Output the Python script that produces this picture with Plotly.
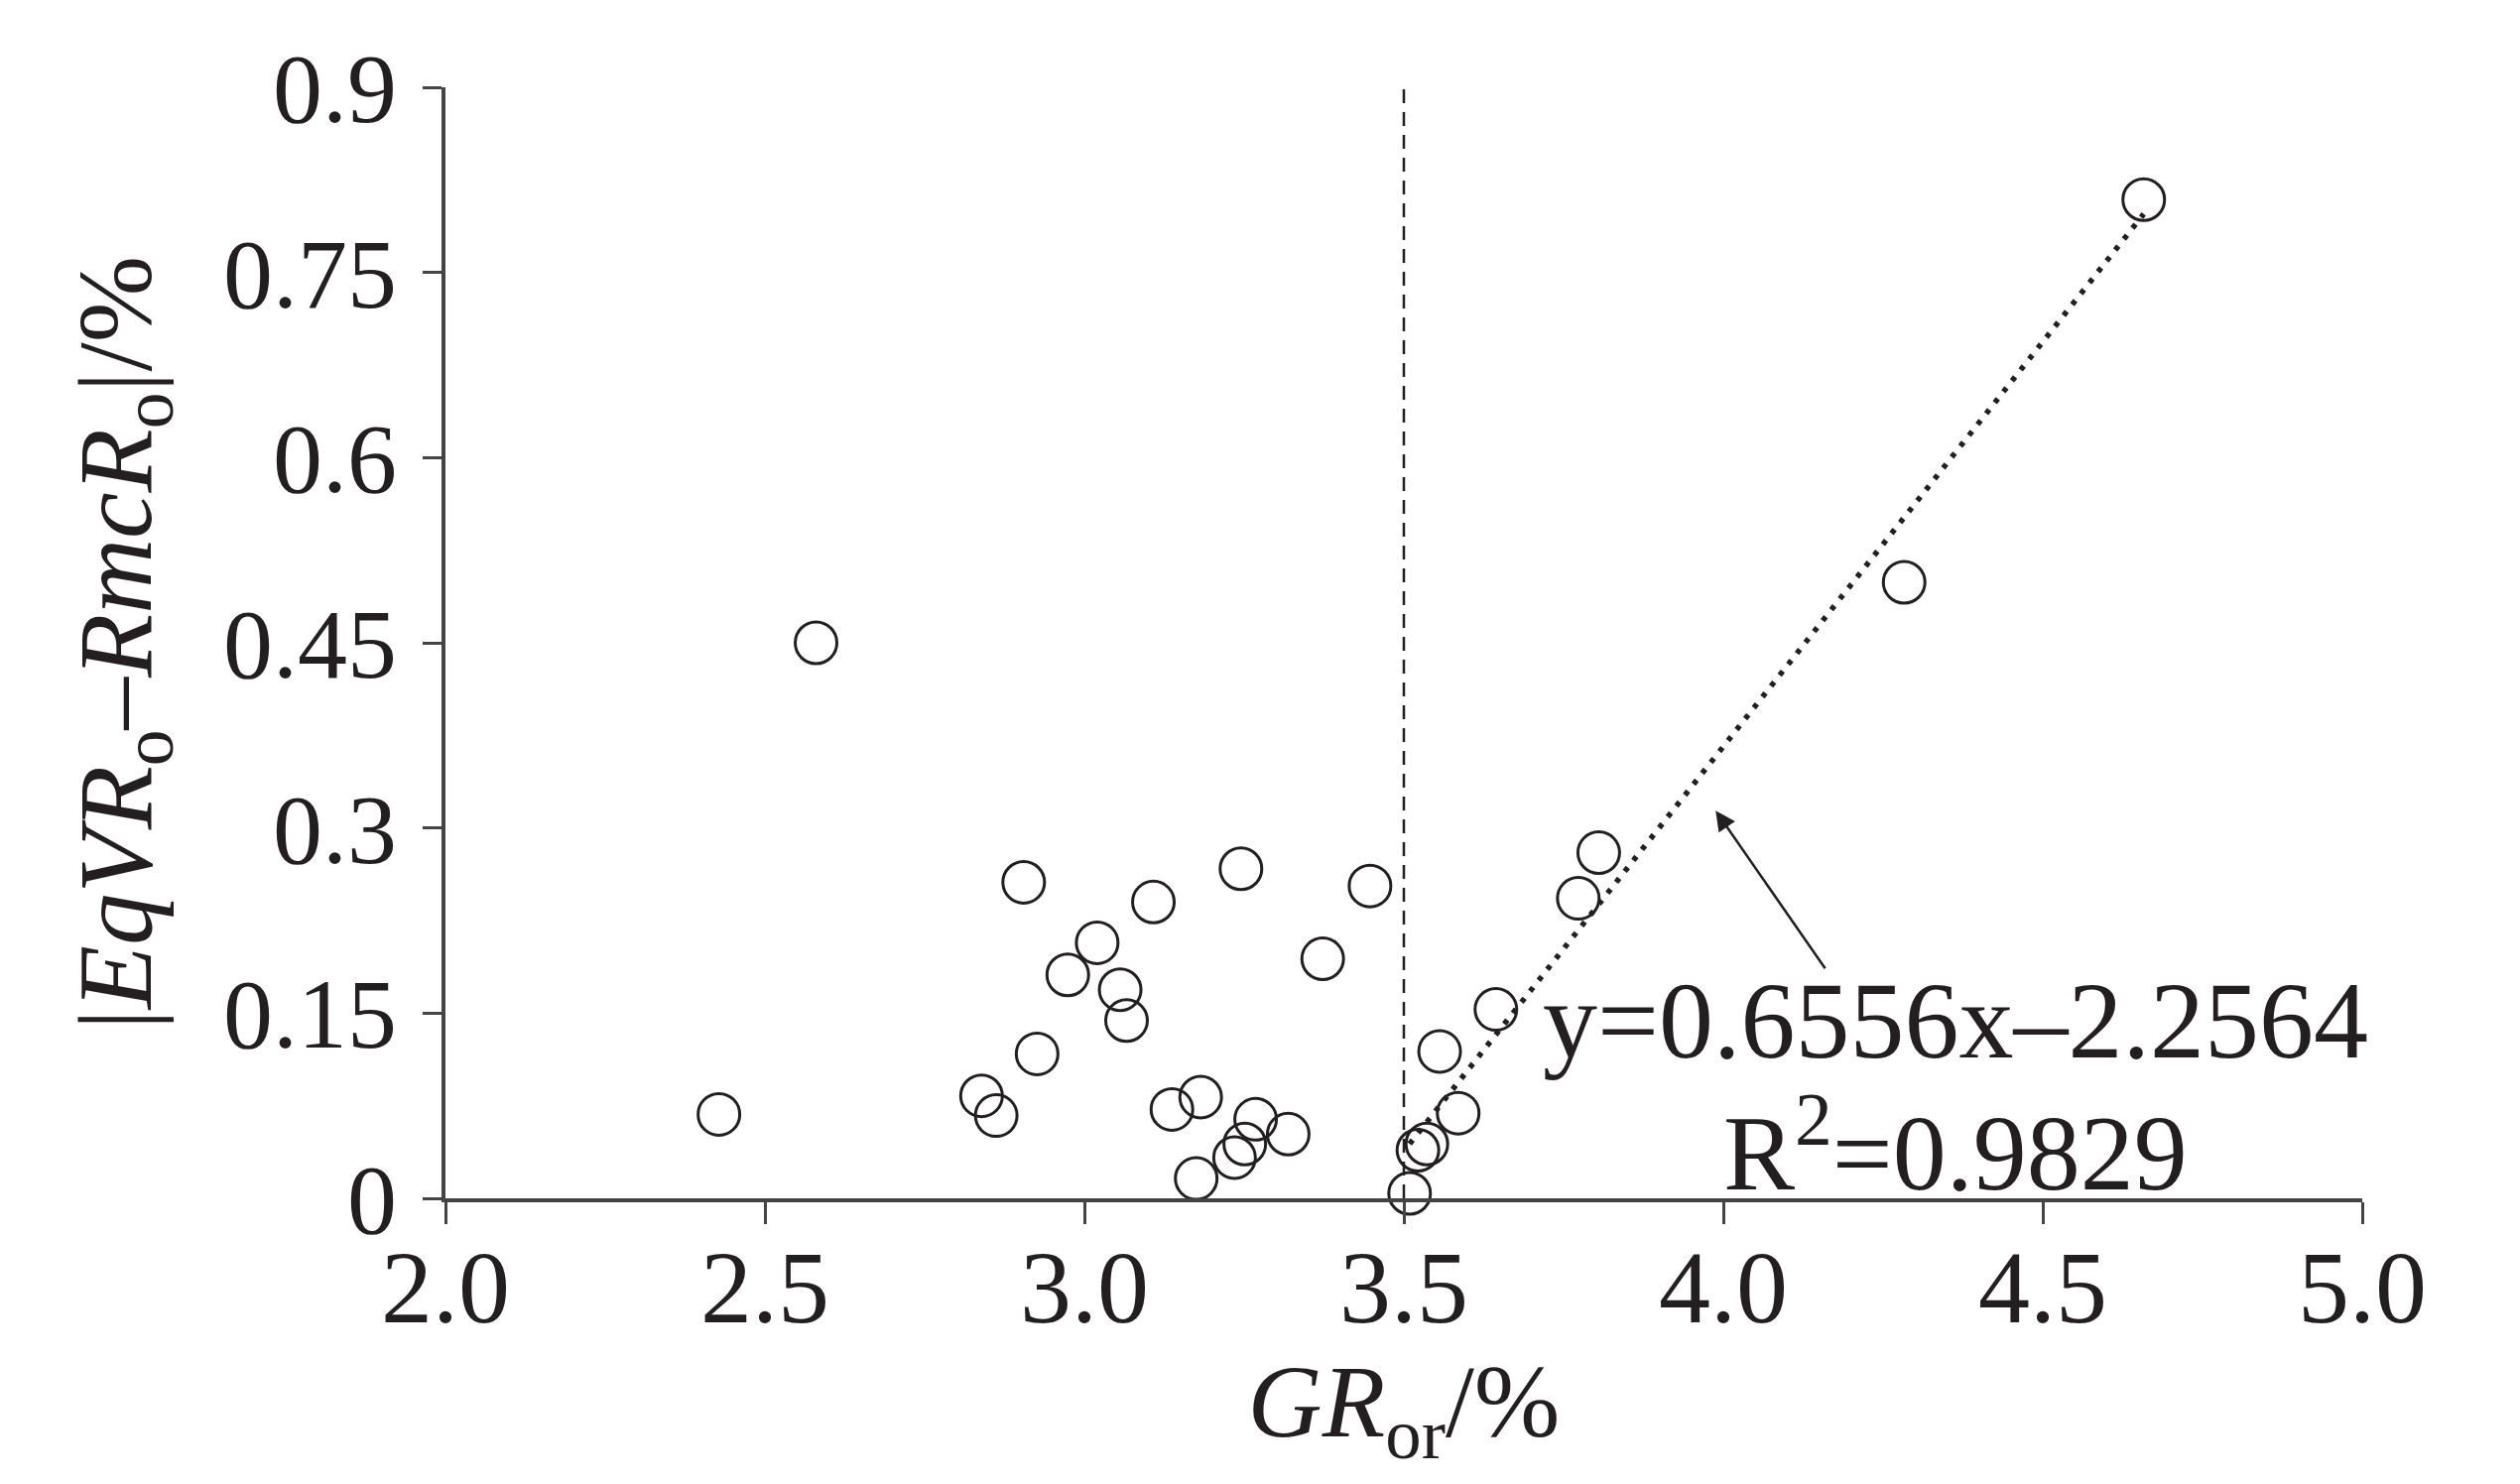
import plotly.graph_objects as go
import numpy as np

# ---- data ----
gr_or = [2.428, 2.58, 2.839, 2.862, 2.905, 2.926, 2.974, 3.020, 3.056, 3.066,
         3.108, 3.137, 3.175, 3.182, 3.235, 3.245, 3.251, 3.268, 3.319, 3.373,
         3.447, 3.509, 3.522, 3.536, 3.556, 3.585, 3.644, 3.773, 3.805, 4.283, 4.658]
diff = [0.068, 0.450, 0.083, 0.067, 0.256, 0.117, 0.181, 0.207, 0.169, 0.144,
        0.240, 0.072, 0.016, 0.082, 0.033, 0.267, 0.044, 0.064, 0.052, 0.194,
        0.253, 0.004, 0.039, 0.044, 0.119, 0.069, 0.153, 0.243, 0.280, 0.499, 0.809]

threshold = 3.5
slope = 0.6556
intercept = -2.2564
r2 = 0.9829

x_ticks = [2.0, 2.5, 3.0, 3.5, 4.0, 4.5, 5.0]
x_ticktext = ["2.0", "2.5", "3.0", "3.5", "4.0", "4.5", "5.0"]
y_ticks = [0, 0.15, 0.3, 0.45, 0.6, 0.75, 0.9]
y_ticktext = ["0", "0.15", "0.3", "0.45", "0.6", "0.75", "0.9"]

INK = "#231f20"
AXIS = "#444444"
FONT = "Liberation Serif"

fit_x = [x for x in gr_or if x >= threshold]
tx = np.array([min(fit_x), max(fit_x)])
ty = slope * tx + intercept

fig = go.Figure()

# trend line (dotted)
fig.add_trace(go.Scatter(x=tx, y=ty, mode="lines",
                         line=dict(color=INK, width=5.5, dash="5px,9px"),
                         hoverinfo="skip", showlegend=False, cliponaxis=False))

# scatter points
fig.add_trace(go.Scatter(x=gr_or, y=diff, mode="markers",
                         marker=dict(symbol="circle-open", size=42,
                                     line=dict(color=INK, width=3), color=INK),
                         showlegend=False, cliponaxis=False))

# vertical dashed threshold line
fig.add_shape(type="line", x0=threshold, x1=threshold, y0=0, y1=0.9,
              xref="x", yref="y", line=dict(color=INK, width=2.5, dash="14px,9px"))

# equation annotations
fig.add_annotation(x=4.363, y=0.144, xref="x", yref="y",
                   text="y=%.4fx\u2013%.4f" % (slope, -intercept), showarrow=False,
                   font=dict(family=FONT, size=110, color=INK),
                   xanchor="center", yanchor="middle")
fig.add_annotation(x=4.363, y=0.043, xref="x", yref="y",
                   text="R<sup>2</sup>=%.4f" % r2, showarrow=False,
                   font=dict(family=FONT, size=108, color=INK),
                   xanchor="center", yanchor="middle")

# arrow pointing at the trend line
fig.add_annotation(x=3.988, y=0.314, ax=4.161, ay=0.185,
                   xref="x", yref="y", axref="x", ayref="y",
                   text="", showarrow=True, arrowhead=2, arrowsize=1.6,
                   arrowwidth=2.5, arrowcolor=INK)

# page body has an 8px margin: figure is 2524x1480 so the plot area lands
# at the reference position inside the 2540x1496 window
fig.update_layout(
    width=2524, height=1480,
    margin=dict(l=441, r=151, t=80, b=280),
    paper_bgcolor="white", plot_bgcolor="white",
    font=dict(family=FONT, color=INK),
    xaxis=dict(range=[2, 5], tickvals=x_ticks, ticktext=x_ticktext,
               showgrid=False, zeroline=False,
               showline=True, linecolor=AXIS, linewidth=4,
               ticks="outside", ticklen=22, tickwidth=2.5, tickcolor=AXIS,
               ticklabelstandoff=-26,
               tickfont=dict(family=FONT, size=104, color=INK),
               title=dict(text="<i>GR</i><sub>or</sub>/%",
                          font=dict(family=FONT, size=104, color=INK), standoff=10)),
    yaxis=dict(range=[0, 0.9], tickvals=y_ticks, ticktext=y_ticktext,
               showgrid=False, zeroline=False,
               showline=True, linecolor=AXIS, linewidth=4,
               ticks="outside", ticklen=19, tickwidth=2.5, tickcolor=AXIS,
               ticklabelstandoff=6,
               tickfont=dict(family=FONT, size=100, color=INK),
               title=dict(text="|<i>EqVR</i><sub>o</sub>\u2013<i>RmcR</i><sub>o</sub>|/%",
                          font=dict(family=FONT, size=105, color=INK), standoff=38)),
)

fig.write_html("out.html")
